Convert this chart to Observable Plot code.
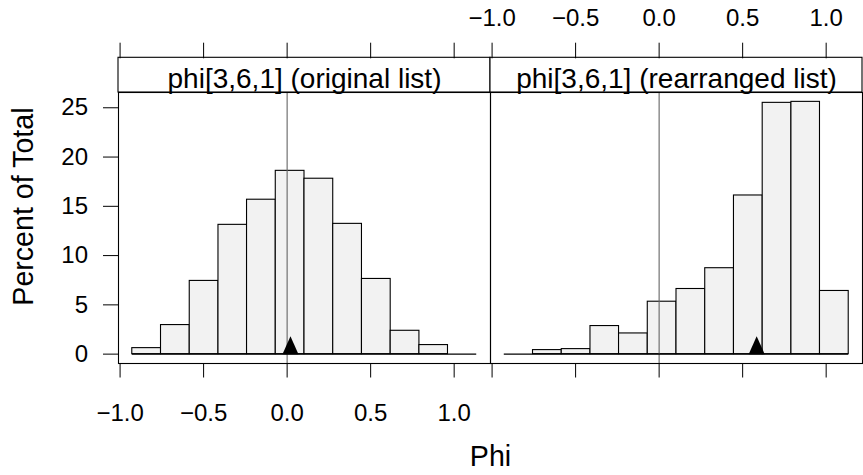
<!DOCTYPE html>
<html>
<head>
<meta charset="utf-8">
<script src="https://cdn.jsdelivr.net/npm/d3@7"></script>
<script src="https://cdn.jsdelivr.net/npm/@observablehq/plot@0.6"></script>
<style>
  html, body { margin: 0; padding: 0; background: #fff; overflow: hidden; }
  #chart svg { display: block; }
</style>
</head>
<body>
<div id="chart"></div>
<script>
// ---- data ----
const panels = ["phi[3,6,1] (original list)", "phi[3,6,1] (rearranged list)"];
const breaks = [-0.927, -0.755, -0.583, -0.411, -0.240, -0.068, 0.104, 0.276, 0.448, 0.620, 0.792, 0.963, 1.135];
const originalPct   = [0.61, 2.95, 7.43, 13.12, 15.67, 18.6, 17.8, 13.22, 7.63, 2.37, 0.92, 0];
const rearrangedPct = [0, 0.41, 0.51, 2.85, 2.1, 5.32, 6.61, 8.72, 16.1, 25.5, 25.6, 6.41];
const markerX = [0.02, 0.584];
const xTicks = [-1, -0.5, 0, 0.5, 1];
const yTicks = [0, 5, 10, 15, 20, 25];
const xDomain = [-1.0095, 1.2175];
const yDomain = [-0.95, 26.55];

// ---- layout ----
const W = 863, H = 475, mT = 92, mB = 112, mL = 117, mR = 1;
const stripPx = 34.7;
const ppu = (H - mT - mB) / (yDomain[1] - yDomain[0]);
const stripTop = yDomain[1] + stripPx / ppu;
const font = "'Liberation Sans', Arial, Helvetica, sans-serif";

const series = [originalPct, rearrangedPct];
const bars = [];
panels.forEach((p, k) => series[k].forEach((v, i) => bars.push({panel: p, x1: breaks[i], x2: breaks[i + 1], y: v})));
const strips = panels.map(p => ({panel: p}));
const markers = panels.map((p, k) => ({panel: p, x: markerX[k]}));

const triUp = {
  draw(ctx) {
    ctx.moveTo(0, -18);
    ctx.lineTo(8, 0);
    ctx.lineTo(-8, 0);
    ctx.closePath();
  }
};

const fmtX = d3.format(".1f");
const blank = () => "";

const chart = Plot.plot({
  width: W, height: H,
  marginTop: mT, marginBottom: mB, marginLeft: mL, marginRight: mR,
  style: {fontFamily: font, background: "#fff", overflow: "hidden"},
  fx: {domain: panels, padding: 0, axis: null},
  x: {domain: xDomain},
  y: {domain: yDomain},
  marks: [
    Plot.rectY(bars.filter(d => d.y > 0), {fx: "panel", x1: "x1", x2: "x2", y: "y", fill: "#f2f2f2", stroke: "#000", strokeWidth: 1.1}),
    Plot.ruleX(strips, {fx: "panel", x: () => 0, stroke: "#666", strokeWidth: 1.1}),
    Plot.ruleY(strips, {fx: "panel", y: () => 0, x1: () => breaks[0], x2: () => breaks[breaks.length - 1], stroke: "#000", strokeWidth: 1.1}),
    Plot.dot(markers, {fx: "panel", x: "x", y: () => 0, symbol: triUp, fill: "#000", stroke: null}),
    Plot.frame({stroke: "#000", strokeWidth: 1.1}),
    Plot.rect(strips, {fx: "panel", x1: () => xDomain[0], x2: () => xDomain[1], y1: () => yDomain[1], y2: () => stripTop, fill: "#fff", stroke: "#000", strokeWidth: 1.1}),
    Plot.text(strips, {fx: "panel", text: "panel", frameAnchor: "top", lineAnchor: "middle", dy: -13.7, fontSize: 28, fill: "#000"}),
    // y axes
    Plot.axisY(yTicks, {anchor: "left", facetAnchor: "left", tickSize: 15, tickFormat: blank, label: null}),
    Plot.text(yTicks, {fx: () => panels[0], y: d => d, text: d => String(d), frameAnchor: "left", textAnchor: "end", lineAnchor: "middle", dx: -30.5, fontSize: 24, fill: "#000"}),
    Plot.axisY(yTicks, {anchor: "right", facetAnchor: "right", tickSize: 15, tickFormat: blank, label: null}),
    // x axes bottom
    Plot.axisX(xTicks, {anchor: "bottom", facetAnchor: "left", tickSize: 14.5, tickPadding: 26, fontSize: 24, label: null, tickFormat: fmtX}),
    Plot.axisX(xTicks, {anchor: "bottom", facetAnchor: "right", tickSize: 14.5, tickFormat: blank, label: null}),
    // x axes top (above strip)
    Plot.axisX(xTicks, {anchor: "top", facetAnchor: "top", tickSize: 15.6, dy: -stripPx, tickFormat: blank, label: null}),
    Plot.axisX(xTicks, {anchor: "top", facetAnchor: "right", tickSize: 0, tickPadding: 31.6, dy: -stripPx, fontSize: 24, label: null, tickFormat: fmtX}),
    // axis titles
    Plot.text([panels[0]], {fx: d => d, frameAnchor: "left", textAnchor: "middle", lineAnchor: "middle", rotate: -90, dx: -94.5, dy: -21.4, text: () => "Percent of Total", fontSize: 28.6, fill: "#000"}),
    Plot.text([panels[1]], {fx: d => d, frameAnchor: "bottom-left", textAnchor: "middle", lineAnchor: "bottom", dy: 102, text: () => "Phi", fontSize: 28.6, fill: "#000"})
  ]
});
document.getElementById("chart").appendChild(chart);
</script>
</body>
</html>
